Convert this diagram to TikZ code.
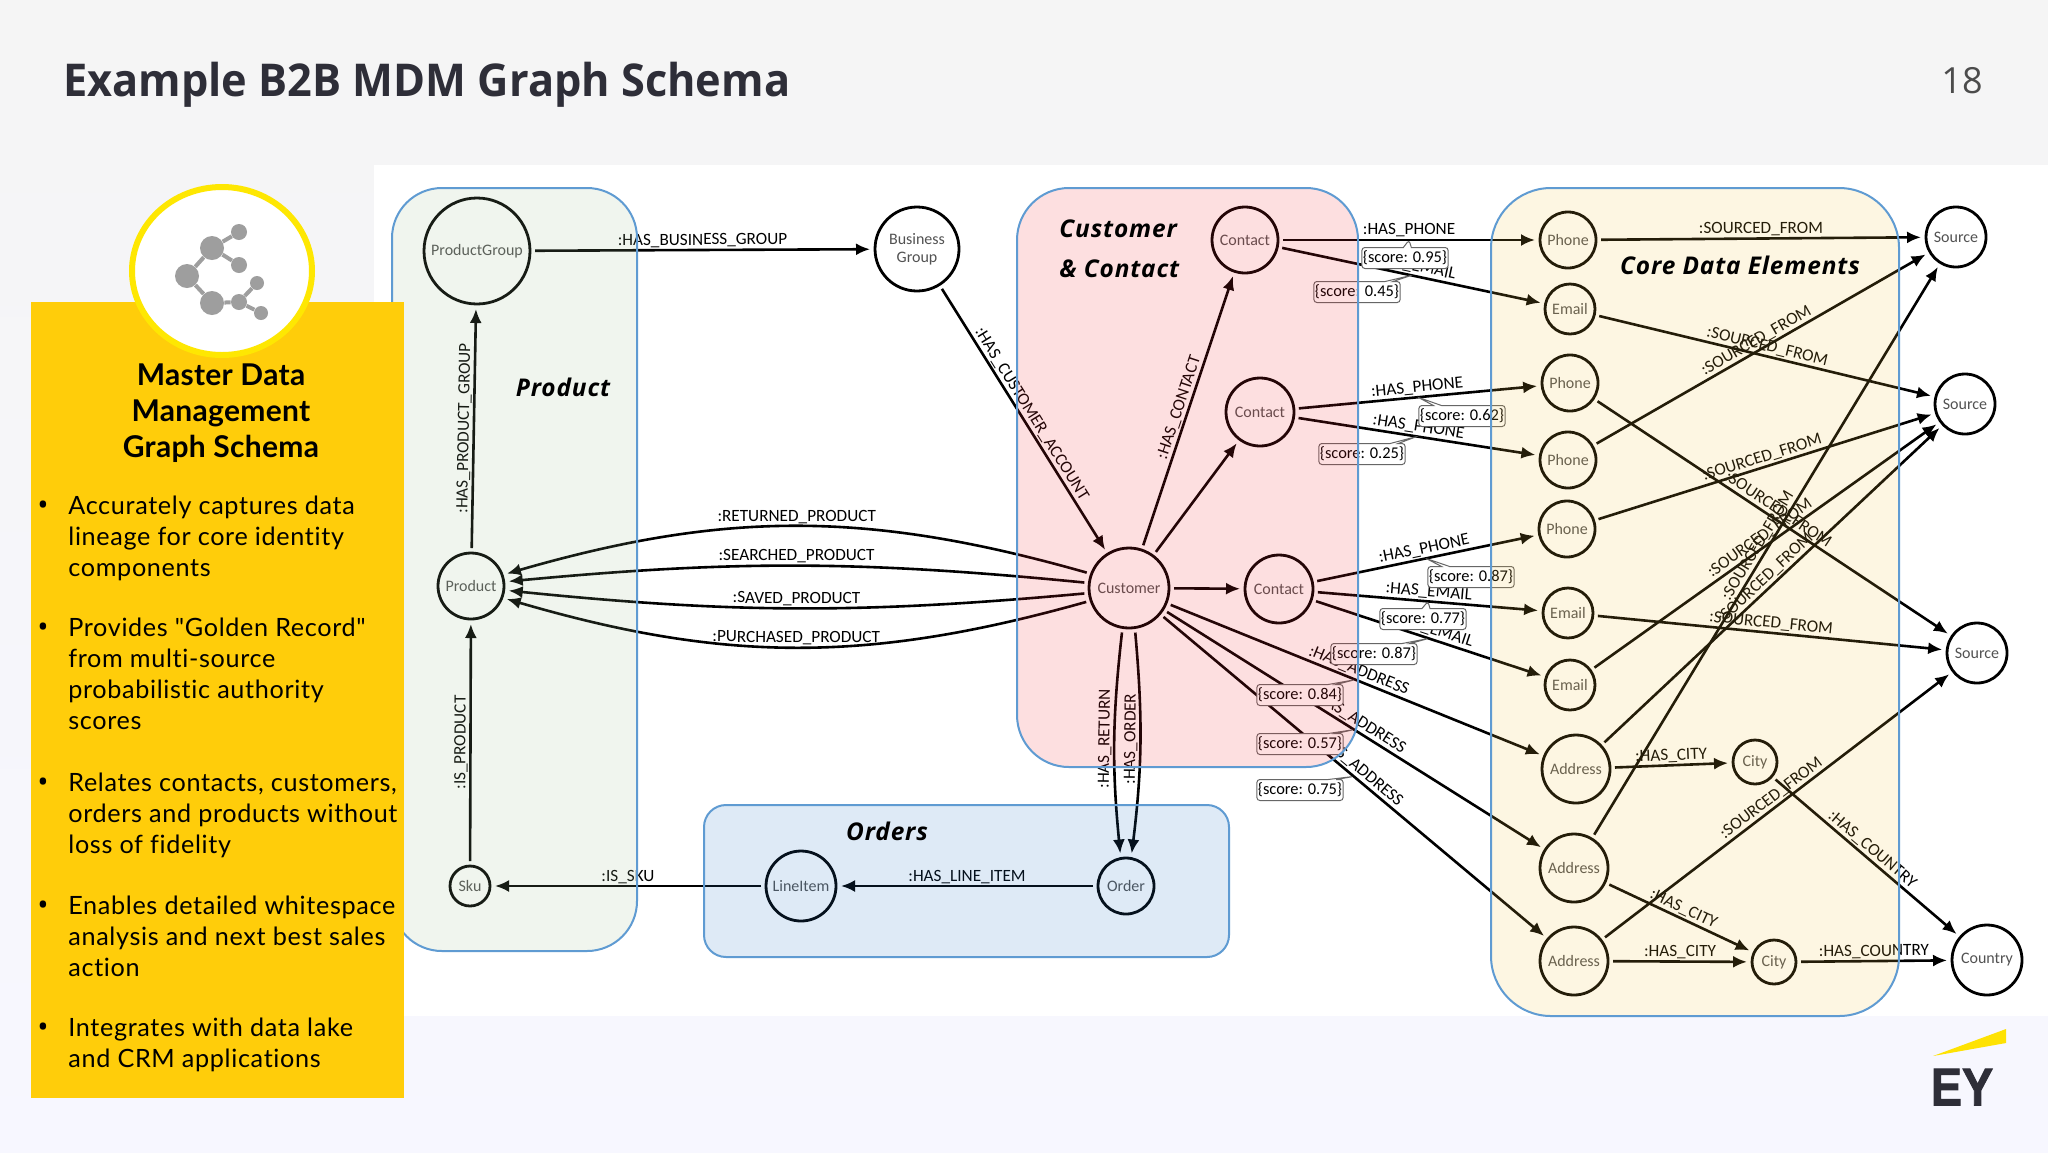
\documentclass[tikz,border=0pt]{standalone}
\usepackage{fontspec}
\setmainfont{Open Sans}
\newfontfamily\graphfont{Carlito}
\newfontfamily\sidefont[LetterSpace=2.6, Ligatures=NoCommon]{Lato}
\newfontfamily\headfont[LetterSpace=1]{Lato}
\newfontfamily\paneltitlefont[LetterSpace=3.5]{Open Sans}
\newfontfamily\eyfont[BoldFeatures={FakeBold=2}]{Liberation Sans}
\usetikzlibrary{
    positioning,
    arrows.meta,
    shapes.callouts
    }
\definecolor{panelblue}{HTML}{5F9BD2}
\definecolor{eyyellow}{HTML}{FFCD0A}
\definecolor{eydark}{HTML}{2E2E38}

\begin{document}
\begin{tikzpicture}[x=0.5pt, y=-0.5pt]
\tikzset{gnode/.style =
        {
            shape=circle,
            line width=1.4pt,
            minimum size=#1pt,
            inner sep=0pt,
            outer sep=2.5pt,
            align=center,
            text=black!68,
            font=\graphfont\fontsize{8}{9}\selectfont,
            draw
        }
}

\tikzset{rel/.style =
        {
            line width=1.3pt,
            -{Latex[length=7pt, width=6pt]}
        }
}

\tikzset{lab/.style =
        {
            midway,
            sloped,
            above=0.2pt,
            inner sep=0.5pt,
            font=\graphfont\fontsize{8.6}{9}\selectfont
        }
}

\tikzset{score/.style =
        {
            shape=rectangle callout,
            callout pointer width=4pt,
            draw=black!60,
            line width=0.5pt,
            rounded corners=1.5pt,
            fill=white,
            minimum width=43pt,
            minimum height=10.5pt,
            inner sep=0.5pt,
            font=\graphfont\fontsize{8.2}{9}\selectfont
        }
}

\tikzset{panel/.style =
        {
            draw=panelblue,
            line width=1pt,
            fill opacity=0.15
        }
}

\tikzset{paneltitle/.style =
        {
            inner sep=0pt,
            font=\paneltitlefont\bfseries\itshape\fontsize{12.2}{14}\selectfont
        }
}

\tikzset{sidetext/.style =
        {
            anchor=north west,
            align=left,
            inner sep=0pt,
            font=\sidefont\fontsize{12.6}{15.4}\selectfont
        }
}

\tikzset{iconball/.style =
        {
            shape=circle,
            fill=black!38,
            inner sep=0pt,
            minimum size=#1pt
        }
}

		\useasboundingbox (0,0) rectangle (2048,1152);
		\shade[top color=black!4, bottom color=blue!3!white] (0,0) rectangle (2048,1152);
		\fill[white] (374,165) rectangle (2048,1016);

		\node[anchor=west, inner sep=0pt, xscale=0.958, text=eydark, font=\bfseries\fontsize{22.6}{26}\selectfont] (title) at (63,85) {Example B2B MDM Graph Schema};
		\node[inner sep=0pt, text=black!70, font=\fontsize{18}{20}\selectfont] (pageno) at (1962,81) {18};

		\foreach \name/\txt/\x/\y/\r in
			{pgrp/ProductGroup/477/251/53,
				bgrp/{Business\\Group}/917/249/42,
				prod/Product/471/586/33,
				sku/Sku/470/886/20,
				item/LineItem/801/886/35,
				order/Order/1126/886/28,
				cust/Customer/1129/588/40,
				c1/Contact/1245/240/33,
				c2/Contact/1260/412/34,
				c3/Contact/1279/589/34,
				p1/Phone/1568/240/28,
				m1/Email/1570/309/25,
				p2/Phone/1570/383/28,
				p3/Phone/1568/460/28,
				p4/Phone/1567/529/28,
				m2/Email/1568/613/25,
				m3/Email/1570/685/25,
				a1/Address/1576/769/34,
				a2/Address/1574/868/34,
				a3/Address/1574/961/34,
				t1/City/1755/762/22,
				t2/City/1774/962/22,
				s1/Source/1956/237/30,
				s2/Source/1965/404/30,
				s3/Source/1977/653/30,
				land/Country/1987/960/35}
		\node[gnode=\r] (\name) at (\x,\y) {\txt};

		\foreach \a/\b/\lab in
			{pgrp/bgrp/:HAS\_BUSINESS\_GROUP,
				prod/pgrp/:HAS\_PRODUCT\_GROUP,
				sku/prod/:IS\_PRODUCT,
				item/sku/:IS\_SKU,
				order/item/:HAS\_LINE\_ITEM,
				bgrp/cust/:HAS\_CUSTOMER\_ACCOUNT,
				cust/c1/:HAS\_CONTACT,
				cust/c2/,
				cust/c3/,
				c1/p1/:HAS\_PHONE,
				c1/m1/:HAS\_EMAIL,
				c2/p2/:HAS\_PHONE,
				c2/p3/:HAS\_PHONE,
				c3/p4/:HAS\_PHONE,
				c3/m2/:HAS\_EMAIL,
				c3/m3/:HAS\_EMAIL,
				cust/a1/:HAS\_ADDRESS,
				cust/a2/:HAS\_ADDRESS,
				cust/a3/:HAS\_ADDRESS,
				p1/s1/:SOURCED\_FROM,
				m1/s2/:SOURCED\_FROM,
				p2/s3/:SOURCED\_FROM,
				p3/s1/:SOURCED\_FROM,
				p4/s2/:SOURCED\_FROM,
				m2/s3/:SOURCED\_FROM,
				m3/s2/:SOURCED\_FROM,
				a1/s2/:SOURCED\_FROM,
				a2/s1/:SOURCED\_FROM,
				a3/s3/:SOURCED\_FROM,
				a1/t1/:HAS\_CITY,
				a2/t2/:HAS\_CITY,
				a3/t2/:HAS\_CITY,
				t1/land/:HAS\_COUNTRY,
				t2/land/:HAS\_COUNTRY}
		\draw[rel] (\a) -- coordinate[midway] (e-\a-\b) node[lab] {\lab} (\b);

		\draw[rel] (cust.160) to[bend right=16] node[lab] {:RETURNED\_PRODUCT} (prod.19);
		\draw[rel] (cust.173) to[bend right=5.5] node[lab] {:SEARCHED\_PRODUCT} (prod.7);
		\draw[rel] (cust.187) to[bend left=5.5] node[lab] {:SAVED\_PRODUCT} (prod.-7);
		\draw[rel] (cust.198) to[bend left=16] node[lab] {:PURCHASED\_PRODUCT} (prod.-20);
		\draw[rel] (cust.-99) to[bend right=6] node[lab, pos=0.48] {:HAS\_RETURN} (order.100);
		\draw[rel] (cust.-82) to[bend left=6] node[lab, pos=0.48] {:HAS\_ORDER} (order.80);

		\foreach \edge/\x/\y/\val in
			{c1-p1/1405/258/0.95,
				c1-m1/1357/292/0.45,
				c2-p2/1462/416/0.62,
				c2-p3/1362/454/0.25,
				c3-p4/1471/577/0.87,
				c3-m2/1423/619/0.77,
				c3-m3/1374/654/0.87,
				cust-a1/1300/695/0.84,
				cust-a2/1300/744/0.57,
				cust-a3/1300/790/0.75}
		\node[score, callout absolute pointer={(e-\edge)}] (score-\edge) at (\x,\y) {\{score: \val\}};

		% tinted boxes go over the graph
		\draw[panel, fill={rgb,255:red,155;green,188;blue,142}, rounded corners=25pt] (392,188) rectangle (637,951);
		\draw[panel, fill={rgb,255:red,248;green,42;blue,50}, rounded corners=26pt] (1017,188) rectangle (1358,767);
		\draw[panel, fill={rgb,255:red,248;green,195;blue,62}, rounded corners=30pt] (1491,188) rectangle (1899,1016);
		\draw[panel, fill={rgb,255:red,35;green,115;blue,195}, rounded corners=11pt] (704,805) rectangle (1229,957);

		\node[paneltitle] (product) at (563,387) {Product};
		\node[paneltitle, anchor=west] (customer) at (1059,229) {Customer};
		\node[paneltitle, anchor=west] (contact) at (1059,269) {\& Contact};
		\node[paneltitle] (core) at (1740,265) {Core Data Elements};
		\node[paneltitle] (orders) at (887,831) {Orders};

		\fill[eyyellow] (31,302) rectangle (404,1098);
		\draw[fill=white, draw=yellow!90!orange, line width=3pt] (222,271) ellipse [x radius=90, y radius=84];

		\foreach \name/\x/\y/\r in
			{b1/212/248/12, b2/187/276/12, b3/212/303/12,
				b4/239/232/8, b5/239/265/8, b6/239/302/8,
				b7/257/283/7, b8/261/313/7}
		\node[iconball=\r] (\name) at (\x,\y) {};
		\foreach \a/\b in {b1/b2, b2/b3, b1/b4, b1/b5, b3/b6, b6/b7, b6/b8}
		\draw[black!38, line width=2pt] (\a) -- (\b);

		\node[inner sep=0pt, align=center, font=\headfont\fontsize{15}{18}\selectfont\bfseries] (heading) at (221,413) {Master Data\\Management\\Graph Schema};

		\foreach \i/\y/\txt in
			{1/506/{Accurately captures data\\lineage for core identity\\components},
				2/628/{Provides "Golden Record"\\from multi-source\\probabilistic authority\\scores},
				3/783/{Relates contacts, customers,\\orders and products without\\loss of fidelity},
				4/906/{Enables detailed whitespace\\analysis and next best sales\\action},
				5/1028/{Integrates with data lake\\and CRM applications}}
		{
			\node[inner sep=0pt, font=\fontsize{15}{14}\selectfont] (bullet-\i) at (43,\y+2) {\textbullet};
			\node[sidetext] (item-\i) at (68,\y-10) {\txt};
		}

		\fill[yellow!85!orange] (1933,1056) -- (2006,1029) -- (2006,1043) -- cycle;
		\node[inner sep=0pt, xscale=0.88, text=eydark, font=\eyfont\bfseries\fontsize{26.5}{28}\selectfont] (eylogo) at (1962,1087) {EY};

	\end{tikzpicture}
\end{document}
